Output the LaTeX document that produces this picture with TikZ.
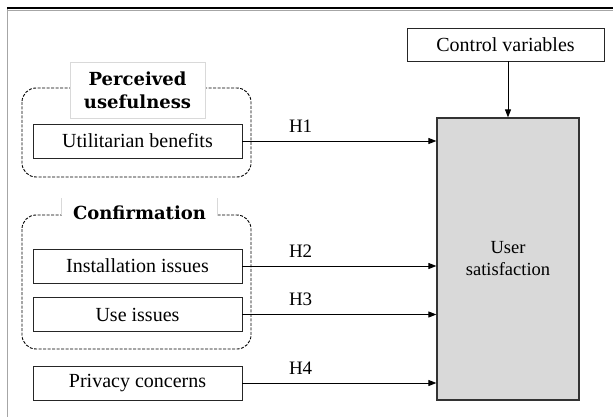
\documentclass[tikz,border=0pt]{standalone}
\usepackage{fontspec}
\setmainfont{Liberation Serif}
\newfontfamily\titlefont{DejaVu Serif}
\usetikzlibrary{arrows.meta}
\begin{document}
\begin{tikzpicture}[x=1pt,y=-1pt,
  var/.style={draw=black!85, line width=0.9pt, minimum width=209pt, minimum height=34pt, inner sep=0pt, font=\fontsize{20}{22}\selectfont},
  grp/.style={draw=black, line width=0.9pt, dash pattern=on 3pt off 1.5pt, rounded corners=14pt},
  ttl/.style={font=\titlefont\bfseries\fontsize{18}{23}\selectfont, align=center, fill=white, inner sep=0pt},
  hyp/.style={font=\fontsize{19}{20}\selectfont, inner sep=0pt, above=8pt, pos=0.3},
  arr/.style={-{Triangle[length=8pt,width=6pt]}, line width=0.9pt},
  faint/.style={draw=black!15, line width=0.8pt}
]
\useasboundingbox (0,0) rectangle (613,417);
% frame
\draw[line width=2pt] (7,8) -- (613,8);
\draw[black!35, line width=0.8pt] (7,10.5) -- (613,10.5);
\draw[black!35, line width=0.8pt] (7,9) -- (7,417);

% groups
\draw[grp] (22,88) rectangle (251,177);
\draw[grp] (22,215) rectangle (251,349);

\node[ttl, faint, minimum width=135pt, minimum height=56pt] (t1) at (137.5,90) {Perceived\\usefulness};
\node[ttl, minimum width=155pt, minimum height=18pt] (t2) at (139.5,213) {Confirmation};
\draw[faint] (t2.west |- 0,198) -- (t2.west |- 0,215);
\draw[faint] (t2.east |- 0,198) -- (t2.east |- 0,215);

% variables
\node[var] (ub) at (137.5,141) {Utilitarian benefits};
\node[var] (ii) at (137.5,266) {Installation issues};
\node[var] (ui) at (137.5,314.5) {Use issues};
\node[var] (pc) at (137.5,383) {Privacy concerns};

\node[draw=black!80, line width=1.2pt, fill=black!15, minimum width=142pt, minimum height=282pt, align=center, font=\fontsize{18.5}{22}\selectfont] (us) at (508,259) {User\\satisfaction};
\node[var, minimum width=197pt, minimum height=33pt] (cv) at (505.5,44.5) {Control variables};

% arrows
\draw[arr] (ub.east) -- (ub.east -| us.west) node[hyp] (h1) {H1};
\draw[arr] (ii.east) -- (ii.east -| us.west) node[hyp] (h2) {H2};
\draw[arr] (ui.east) -- (ui.east -| us.west) node[hyp] (h3) {H3};
\draw[arr] (pc.east) -- (pc.east -| us.west) node[hyp] (h4) {H4};
\draw[arr] (cv.south -| us.north) -- (us.north);
\end{tikzpicture}
\end{document}
